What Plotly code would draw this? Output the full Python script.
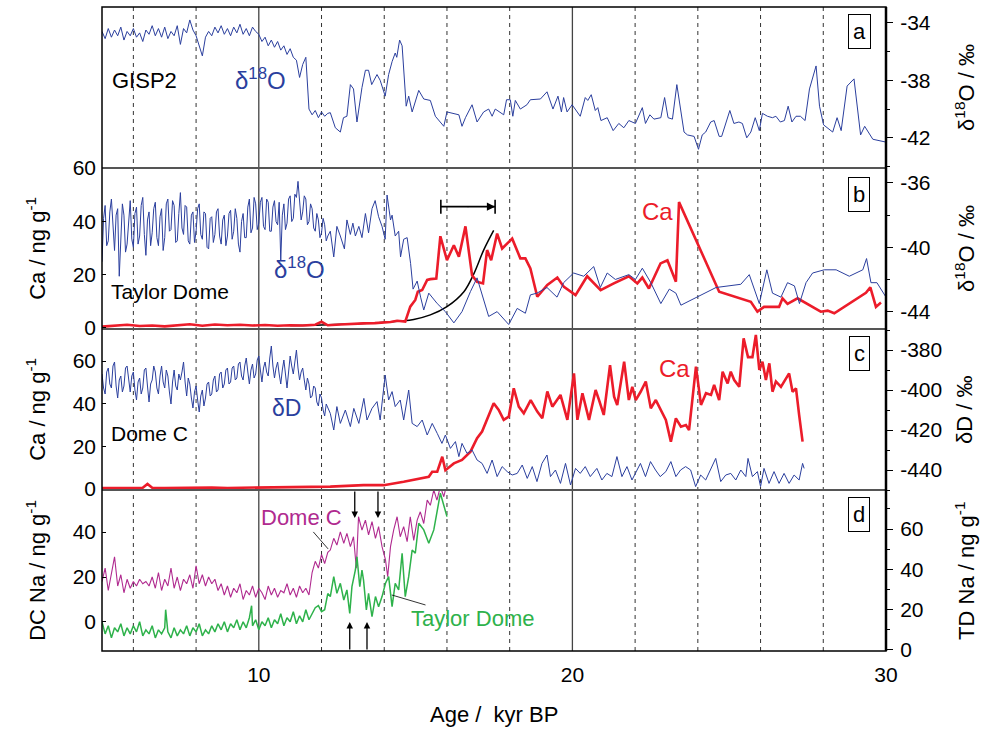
import plotly.graph_objects as go

# ---------------- data ----------------
# Panel a: GISP2 d18O (permil)
gisp_age = [5.0,5.1,5.2,5.3,5.4,5.5,5.6,5.7,5.8,5.9,6.0,6.1,6.2,6.3,6.4,6.5,6.6,6.7,6.8,6.9,
            7.0,7.1,7.2,7.3,7.4,7.5,7.6,7.7,7.8,7.9,8.0,8.1,8.2,8.3,8.4,8.5,8.6,8.7,8.8,8.9,
            9.0,9.1,9.2,9.3,9.4,9.5,9.6,9.7,9.8,9.9,10.0,10.1,10.2,10.3,10.4,10.5,10.6,10.7,10.8,10.9,
            11.0,11.1,11.2,11.3,11.4,11.5,11.6,11.7,11.8,11.9,12.0,12.1,12.2,
            12.28,12.44,12.6,12.7,12.81,12.92,13.02,13.13,13.29,13.4,13.5,13.6,13.77,13.87,14.03,14.14,
            14.25,14.35,14.4,14.49,14.57,14.7,14.78,14.89,15.1,15.26,15.47,15.63,15.9,16.0,16.38,16.48,
            16.59,16.8,16.96,17.17,17.33,17.44,17.54,17.81,17.9,18.02,18.1,18.18,18.34,18.55,18.66,18.98,
            19.19,19.38,19.54,19.65,19.72,19.83,19.99,20.25,20.41,20.49,20.6,20.73,20.81,20.91,21.11,21.3,
            21.48,21.64,21.8,22.01,22.23,22.33,22.47,22.6,22.82,22.94,23.05,23.19,23.33,23.56,23.67,23.88,
            24.02,24.14,24.25,24.41,24.52,24.68,24.76,25.02,25.15,25.31,25.42,25.56,25.69,25.83,25.96,26.06,
            26.22,26.38,26.49,26.63,26.76,26.88,27.0,27.13,27.27,27.42,27.56,27.77,27.88,28.01,28.3,28.44,
            28.57,28.76,28.98,29.19,29.32,29.58,30.0]
gisp_d18o = [-34.6,-35.1,-34.4,-35.0,-34.5,-34.9,-34.3,-35.2,-34.6,-34.9,-34.4,-35.0,-34.7,-35.3,-34.5,-34.8,-34.2,-34.9,-34.4,-35.0,
             -34.3,-35.1,-34.6,-34.9,-34.2,-35.5,-34.4,-34.7,-33.8,-34.5,-34.9,-35.6,-36.3,-35.0,-34.6,-34.9,-34.3,-34.7,-34.2,-34.8,
             -34.4,-34.9,-34.3,-34.7,-34.1,-34.8,-34.4,-34.9,-34.3,-34.6,-34.8,-35.3,-35.0,-35.6,-35.2,-35.7,-35.3,-35.9,-35.6,-36.2,
             -35.8,-36.4,-36.6,-37.8,-36.9,-36.4,-40.0,-40.4,-40.1,-40.6,-40.2,-40.5,-40.3,
             -40.25,-41.3,-41.6,-40.6,-40.5,-38.3,-38.6,-40.9,-38.5,-37.3,-37.3,-38.3,-37.6,-38.0,-39.1,-37.6,
             -36.7,-36.1,-36.4,-35.2,-35.6,-39.8,-39.1,-40.2,-38.7,-39.3,-39.4,-40.5,-41.2,-40.2,-40.4,-41.2,
             -40.6,-39.7,-40.9,-40.2,-40.0,-40.5,-40.0,-40.4,-39.35,-39.35,-40.5,-39.4,-40.0,-39.7,-39.35,-39.3,
             -38.8,-40.0,-39.1,-40.2,-39.2,-40.2,-39.7,-40.5,-39.2,-39.4,-39.0,-40.1,-39.9,-40.8,-40.6,-41.5,
             -41.0,-41.3,-40.8,-41.0,-39.9,-41.0,-40.4,-40.7,-40.6,-39.2,-40.6,-40.7,-38.3,-41.6,-41.8,-41.9,
             -42.8,-41.8,-41.6,-40.9,-40.8,-41.9,-41.9,-40.1,-41.0,-40.9,-41.0,-42.0,-41.6,-40.6,-41.5,-40.3,
             -40.5,-40.6,-40.5,-40.9,-40.8,-39.8,-40.9,-40.5,-40.5,-40.8,-38.6,-37.0,-39.8,-41.1,-41.6,-40.6,
             -41.5,-38.4,-37.9,-41.8,-41.2,-42.1,-42.3]

# Panel b: Taylor Dome d18O (permil) and Ca (ng/g)
td_o_age = [5.00,5.05,5.10,5.15,5.20,5.25,5.30,5.35,5.40,5.45,5.50,5.55,5.60,5.65,5.70,5.75,5.80,5.85,5.90,5.95,
            6.00,6.05,6.10,6.15,6.20,6.25,6.30,6.35,6.40,6.45,6.50,6.55,6.60,6.65,6.70,6.75,6.80,6.85,6.90,6.95,
            7.00,7.05,7.10,7.15,7.20,7.25,7.30,7.35,7.40,7.45,7.50,7.55,7.60,7.65,7.70,7.75,7.80,7.85,7.90,7.95,
            8.00,8.05,8.10,8.15,8.20,8.25,8.30,8.35,8.40,8.45,8.50,8.55,8.60,8.65,8.70,8.75,8.80,8.85,8.90,8.95,
            9.00,9.05,9.10,9.15,9.20,9.25,9.30,9.35,9.40,9.45,9.50,9.55,9.60,9.65,9.70,9.75,9.80,9.85,9.90,9.95,
            10.00,10.05,10.10,10.15,10.20,10.25,10.30,10.35,10.40,10.45,10.50,10.55,10.60,10.65,10.70,10.75,10.80,10.85,10.90,10.95,
            11.00,11.05,11.10,11.15,11.20,11.25,11.30,11.35,11.40,11.45,11.50,11.55,11.60,11.65,11.70,11.75,11.80,11.85,11.90,11.95,
            12.00,12.05,12.10,12.15,12.20,
            12.28,12.39,12.49,12.6,12.73,12.81,12.92,13.0,13.08,13.19,13.29,13.4,13.5,13.61,13.71,13.82,
            13.93,14.03,14.09,14.2,14.25,14.35,14.46,14.52,14.62,14.73,14.84,14.92,15.05,15.16,15.26,15.42,
            15.69,15.95,16.22,16.48,16.75,16.96,17.33,17.6,17.97,18.24,18.5,18.66,18.87,19.19,19.51,19.72,
            20.04,20.36,20.68,20.89,21.11,21.37,21.8,22.01,22.23,22.5,22.82,23.09,23.3,23.46,23.99,24.58,
            25.37,25.64,25.96,26.2,26.38,26.65,26.86,27.08,27.24,27.45,27.66,28.03,28.41,28.83,29.26,29.38,
            29.52,29.71,30.0]
td_d18o = [-40.9,-38.2,-37.4,-39.9,-39.6,-37.8,-37.0,-39.1,-40.2,-38.0,-37.6,-41.8,-39.4,-37.3,-38.0,-40.3,-39.8,-38.1,-37.1,-39.5,
           -40.0,-37.9,-37.5,-39.8,-39.3,-37.4,-36.9,-39.2,-40.5,-38.3,-37.8,-39.9,-39.1,-37.6,-37.2,-39.4,-39.9,-38.1,-37.6,-40.2,
           -39.4,-37.3,-37.0,-39.0,-38.9,-37.1,-37.4,-39.7,-39.6,-37.9,-36.6,-38.8,-39.2,-37.4,-37.5,-39.6,-39.8,-38.0,-37.8,-39.7,
           -39.0,-37.6,-37.3,-39.2,-39.5,-37.8,-37.9,-40.0,-40.1,-38.2,-38.1,-39.7,-39.2,-37.8,-37.6,-39.3,-39.8,-38.3,-38.0,-39.9,
           -39.3,-37.9,-37.7,-39.5,-39.0,-37.6,-38.2,-39.8,-40.3,-38.4,-37.9,-39.4,-39.4,-37.5,-37.0,-39.1,-38.8,-36.9,-37.3,-38.9,
           -38.5,-37.2,-36.9,-38.7,-38.9,-37.0,-37.2,-39.0,-39.0,-37.5,-37.1,-38.4,-38.6,-37.2,-40.8,-38.0,-37.3,-38.9,-38.5,-37.0,
           -36.8,-38.4,-38.2,-36.7,-36.9,-35.9,-37.2,-38.3,-37.8,-36.8,-37.0,-38.6,-38.4,-37.3,-37.6,-38.8,-39.0,-37.9,-38.3,-39.4,
           -39.1,-38.2,-38.6,-39.6,-39.3,
           -39.0,-40.6,-38.7,-39.3,-40.1,-38.3,-39.2,-38.5,-39.3,-38.7,-39.4,-37.9,-39.1,-37.6,-37.1,-38.1,
           -38.7,-39.5,-36.75,-38.3,-38.0,-39.3,-39.0,-40.6,-39.5,-39.4,-41.0,-42.6,-42.1,-43.1,-43.9,-42.85,
           -43.5,-44.0,-44.7,-44.0,-42.75,-41.9,-44.3,-44.0,-44.8,-43.8,-44.1,-42.96,-42.85,-42.5,-43.1,-42.2,
           -41.6,-41.8,-41.2,-42.5,-41.6,-42.0,-41.7,-42.0,-41.3,-42.2,-43.5,-42.6,-42.85,-43.6,-43.1,-42.5,
           -42.3,-41.7,-43.5,-41.4,-42.85,-43.1,-42.2,-42.4,-43.5,-42.2,-41.6,-41.4,-41.4,-41.8,-41.4,-40.7,
           -42.2,-42.2,-43.1]

td_ca_age = [5.0,5.4,5.8,6.2,6.6,7.0,7.4,7.8,8.2,8.6,9.0,9.4,9.8,10.2,10.6,11.0,11.4,11.8,12.0,12.2,
             12.6,13.0,13.34,13.7,13.98,14.2,14.41,14.67,14.83,14.99,15.07,15.21,15.37,15.47,15.66,15.79,
             16.0,16.22,16.38,16.59,16.8,16.96,17.15,17.28,17.41,17.6,17.76,17.92,18.08,18.34,18.5,18.66,
             18.88,19.2,19.52,19.73,20.1,20.47,20.9,21.32,21.8,22.07,22.23,22.44,22.81,23.03,23.3,23.4,
             24.68,25.69,25.9,26.11,26.59,26.7,26.86,27.18,27.44,27.92,28.14,28.35,29.36,29.5,29.68,29.84]
td_ca = [0.5,0.8,1.2,0.7,0.9,0.6,1.1,1.4,0.8,1.3,1.0,1.2,0.9,1.1,0.8,1.0,0.9,1.2,2.3,1.0,
         1.3,1.6,1.7,1.8,2.0,2.2,2.7,2.4,8.0,10.5,13.6,14.2,18.0,18.3,18.5,34.4,
         25.4,31.0,26.7,38.1,19.8,17.3,16.7,29.2,25.4,35.4,29.8,31.6,33.5,26.1,26.1,22.3,
         11.7,16.1,18.9,15.4,12.3,19.4,14.2,16.7,19.4,16.7,18.9,14.8,24.2,25.4,17.3,47.2,
         13.6,9.8,6.1,7.9,7.9,11.1,9.0,11.1,9.3,6.1,6.5,5.5,13.2,15.2,7.9,9.5]

# black fitted curve in panel b
td_fit_age = [11.0,12.0,13.0,14.0,14.5,14.94,15.47,16.0,16.54,16.86,17.17,17.49]
td_fit_ca = [0.9,1.1,1.5,2.1,2.6,3.2,4.9,8.0,13.6,20.4,29.2,36.6]

# horizontal bar in panel b
bar_center_age = 16.67
bar_half_width = 0.865
bar_level_ca = 45.5

# Panel c: Dome C dD (permil) and Ca (ng/g)
dc_d_age = [5.00,5.05,5.10,5.15,5.20,5.25,5.30,5.35,5.40,5.45,5.50,5.55,5.60,5.65,5.70,5.75,5.80,5.85,5.90,5.95,
            6.00,6.05,6.10,6.15,6.20,6.25,6.30,6.35,6.40,6.45,6.50,6.55,6.60,6.65,6.70,6.75,6.80,6.85,6.90,6.95,
            7.00,7.05,7.10,7.15,7.20,7.25,7.30,7.35,7.40,7.45,7.50,7.55,7.60,7.65,7.70,7.75,7.80,7.85,7.90,7.95,
            8.00,8.05,8.10,8.15,8.20,8.25,8.30,8.35,8.40,8.45,8.50,8.55,8.60,8.65,8.70,8.75,8.80,8.85,8.90,8.95,
            9.00,9.05,9.10,9.15,9.20,9.25,9.30,9.35,9.40,9.45,9.50,9.55,9.60,9.65,9.70,9.75,9.80,9.85,9.90,9.95,
            10.00,10.05,10.10,10.15,10.20,10.25,10.30,10.35,10.40,10.45,10.50,10.55,10.60,10.65,10.70,10.75,10.80,10.85,10.90,10.95,
            11.00,11.05,11.10,11.15,11.20,11.25,11.30,11.35,11.40,11.45,11.50,11.55,11.60,11.65,11.70,11.75,11.80,11.85,11.90,11.95,
            12.00,12.05,12.10,12.15,12.20,
            12.28,12.39,12.49,12.6,12.76,12.92,13.03,13.19,13.35,13.45,13.61,13.77,13.87,14.03,14.14,14.25,
            14.35,14.51,14.62,14.78,14.89,15.05,15.21,15.37,15.53,15.69,15.84,15.95,16.11,16.27,16.38,16.48,
            16.64,16.8,16.96,17.12,17.28,17.44,17.6,17.76,17.92,18.08,18.24,18.4,18.56,18.72,18.87,19.03,
            19.19,19.3,19.46,19.62,19.78,19.94,20.1,20.25,20.41,20.57,20.78,20.94,21.1,21.26,21.42,21.58,
            21.74,21.9,22.0,22.17,22.33,22.49,22.65,22.8,22.98,23.14,23.3,23.45,23.61,23.77,23.93,24.09,
            24.25,24.41,24.57,24.73,24.89,25.05,25.21,25.37,25.53,25.6,25.74,25.9,26.0,26.11,26.27,26.43,
            26.59,26.75,26.91,27.07,27.23,27.34,27.39]
dc_dD = [-392,-399,-402,-391,-389,-397,-399,-388,-386,-398,-404,-395,-393,-401,-398,-389,-388,-396,-401,-393,
         -391,-400,-405,-396,-394,-402,-399,-390,-389,-398,-406,-397,-395,-388,-391,-399,-402,-393,-388,-396,
         -399,-390,-393,-401,-407,-396,-390,-398,-400,-392,-395,-391,-386,-396,-403,-394,-397,-404,-409,-401,
         -398,-405,-411,-403,-400,-408,-404,-397,-396,-403,-402,-395,-393,-401,-400,-392,-391,-399,-397,-390,
         -389,-397,-396,-389,-388,-395,-394,-387,-386,-393,-395,-388,-384,-391,-397,-390,-387,-394,-392,-385,
         -383,-390,-396,-389,-386,-391,-393,-384,-378,-388,-394,-389,-386,-392,-397,-390,-385,-392,-399,-391,
         -383,-388,-392,-386,-380,-389,-395,-391,-389,-395,-400,-394,-397,-404,-403,-398,-399,-406,-408,-402,
         -404,-410,-413,-407,-409,
         -411.7,-420,-408.3,-416.7,-410,-418.3,-409.2,-416.7,-404.2,-415,-409.2,-405.8,-415,-392.5,-405,-400.8,
         -408.3,-405,-415,-400,-416.7,-418.3,-415,-422.5,-416.7,-421.7,-426.7,-422.5,-429.2,-425.8,-433.3,-426.7,
         -431.7,-430,-435,-436.7,-441.7,-435,-443.3,-438.3,-440.8,-442.5,-441.7,-437.5,-444.2,-438.3,-445.8,-436.7,
         -432.5,-443.3,-440,-446.7,-436.7,-447.5,-439.2,-441.7,-438.3,-443.3,-439.2,-445,-441.7,-443.3,-433.3,-443.3,
         -438.3,-445,-441.7,-436.7,-443.3,-435.8,-440,-443.3,-440.8,-435.8,-443.3,-440,-438.3,-440,-448.3,-442.5,
         -445,-439.2,-434.2,-445.8,-442.5,-441.7,-445,-440,-443.3,-434.2,-443.3,-440.8,-448.3,-439.2,-446.7,-440.8,
         -446.7,-441.7,-446.7,-442.5,-445,-436.7,-439.2]

dc_ca_age = [5.0,5.5,6.0,6.3,6.45,6.6,7.0,7.5,8.0,8.5,9.0,9.5,10.0,10.5,11.0,11.5,12.0,12.28,13.34,13.98,
             14.62,15.05,15.42,15.53,15.69,15.85,15.95,16.22,16.48,16.75,16.96,17.12,17.28,17.49,17.65,17.81,
             17.97,18.13,18.29,18.45,18.67,18.88,19.04,19.2,19.36,19.62,19.84,20.05,20.16,20.32,20.53,20.74,
             20.85,21.0,21.2,21.33,21.43,21.65,21.8,21.91,22.02,22.18,22.34,22.5,22.66,22.82,22.98,23.14,
             23.3,23.46,23.62,23.72,23.94,24.1,24.26,24.42,24.52,24.68,24.79,24.95,25.05,25.16,25.32,25.46,
             25.6,25.74,25.85,25.96,26.06,26.17,26.28,26.38,26.49,26.65,26.91,27.02,27.13,27.23,27.34]
dc_ca = [0.4,0.6,0.5,0.6,2.4,0.6,0.4,0.6,0.5,0.7,0.5,0.6,0.5,0.8,0.6,0.7,0.9,1.1,1.8,1.8,
         3.4,4.5,5.7,8.1,8.1,15.1,8.8,12.0,13.6,17.5,23.8,26.9,32.4,40.2,37.1,32.4,
         33.9,47.2,38.6,35.5,41.7,36.3,33.2,45.7,38.6,44.1,32.4,54.2,32.4,44.9,32.4,46.4,
         41.7,34.7,58.1,43.3,39.4,59.7,41.7,47.9,41.7,45.7,50.4,37.8,41.7,37.0,32.4,22.2,
         33.1,29.2,30.0,27.6,57.4,39.4,44.9,44.1,48.8,41.7,55.0,49.5,55.0,51.1,47.9,70.6,
         61.8,61.8,72.2,55.8,59.7,51.1,58.9,45.6,50.4,47.9,54.2,45.6,47.2,34.7,22.2]

# Panel d: Dome C Na (left axis) and Taylor Dome Na (right axis), ng/g
dc_na_age = [5.0,5.1,5.2,5.3,5.4,5.5,5.6,5.7,5.8,5.9,6.0,6.1,6.2,6.3,6.4,6.5,6.6,6.7,6.8,6.9,
             7.0,7.1,7.2,7.3,7.4,7.5,7.6,7.7,7.8,7.9,8.0,8.1,8.2,8.3,8.4,8.5,8.6,8.7,8.8,8.9,
             9.0,9.1,9.2,9.3,9.4,9.5,9.6,9.7,9.8,9.9,10.0,10.1,10.2,10.3,10.4,10.5,10.6,10.7,10.8,10.9,
             11.0,11.1,11.2,11.3,11.4,11.5,11.6,11.7,11.8,11.9,12.0,12.1,12.2,
             12.28,12.39,12.49,12.6,12.71,12.81,12.92,13.02,13.11,13.18,13.29,13.4,13.5,13.61,13.72,13.82,
             13.93,14.04,14.11,14.2,14.3,14.41,14.51,14.62,14.73,14.83,14.94,15.05,15.15,15.26,15.37,15.47,
             15.58,15.68,15.79,15.9,15.95]
dc_na = [18,24,14,22,29,16,21,13,19,15,18,16,19,17,18,16,20,15,22,14,
         19,16,24,15,20,14,19,17,21,15,25,17,21,16,20,17,19,14,17,12,
         16,11,15,13,17,10,14,12,16,11,15,13,10,16,12,15,11,14,13,17,
         12,15,11,16,13,15,12,22,27,24,30,26,31,
         32,37.2,34.2,40.1,35,39.4,33.5,37.9,23.9,46.8,40.9,45.3,38.7,44.6,37.2,42.4,
         33.5,27.6,20.1,33.5,40.9,46.8,37.9,42.4,35.7,46.8,36.3,45.3,49.0,43.8,54.2,51.9,
         58.7,54.2,60.2,55.7,58.7]

td_na_age = [5.0,5.1,5.2,5.3,5.4,5.5,5.6,5.7,5.8,5.9,6.0,6.1,6.2,6.3,6.4,6.5,6.6,6.7,6.8,6.9,
             7.0,7.03,7.1,7.2,7.3,7.4,7.5,7.6,7.7,7.8,7.9,8.0,8.1,8.2,8.3,8.4,8.5,8.6,8.7,8.8,8.9,
             9.0,9.1,9.2,9.3,9.4,9.5,9.6,9.7,9.77,9.8,9.9,10.0,10.1,10.2,10.3,10.4,10.5,10.6,10.7,10.8,10.9,
             11.0,11.1,11.2,11.3,11.4,11.5,11.6,11.7,11.8,11.9,12.0,12.1,12.2,
             12.28,12.39,12.49,12.6,12.71,12.81,12.9,12.97,13.08,13.13,13.22,13.29,13.34,13.43,13.5,13.61,
             13.72,13.82,13.93,14.04,14.14,14.25,14.35,14.46,14.57,14.67,14.78,14.89,14.99,15.1,15.26,15.42,
             15.58,15.79,16.0]
td_na = [14,8,12,6,11,9,13,7,11,8,12,9,14,7,10,8,12,6,10,8,
         11,20,9,6,11,7,10,8,12,7,11,9,13,7,10,8,12,9,13,10,14,
         9,13,11,15,10,14,11,16,22,12,15,10,14,12,16,11,15,13,18,12,16,
         14,19,13,17,14,20,15,18,21,22,19,20,28,
         26.5,36.4,28.1,33.1,24.8,29.8,18.2,31.4,39.7,46.3,31.4,39.7,34.7,19.9,28.1,16.5,
         26.5,21.5,26.5,33.1,36.4,21.5,33.1,29.8,48.0,26.5,36.4,49.6,48.0,62.9,59.6,53.0,
         59.6,77.8,66.2]

# arrows in panel d (ages)
down_arrow_ages = [13.06, 13.8]
up_arrow_ages = [12.9, 13.45]

# axis ticks
x_ticks = [10, 20, 30]
dashed_ages = [6, 8, 12, 14, 16, 18, 22, 24, 26, 28]
solid_ages = [10, 20]

# ---------------- styling ----------------
FONT = "Liberation Sans, Arial, Helvetica, sans-serif"
BLUE = "#2b3f9e"
RED = "#ec1c2a"
MAGENTA = "#b02a8f"
GREEN = "#2eb24b"

fig = go.Figure()

fig.add_trace(go.Scatter(x=gisp_age, y=gisp_d18o, mode="lines", line=dict(color=BLUE, width=1),
                         xaxis="x", yaxis="y"))
fig.add_trace(go.Scatter(x=td_o_age, y=td_d18o, mode="lines", line=dict(color=BLUE, width=1),
                         xaxis="x", yaxis="y3"))
fig.add_trace(go.Scatter(x=td_fit_age, y=td_fit_ca, mode="lines", line=dict(color="black", width=1.5, shape="spline"),
                         xaxis="x", yaxis="y2"))
fig.add_trace(go.Scatter(x=td_ca_age, y=td_ca, mode="lines", line=dict(color=RED, width=2.6),
                         xaxis="x", yaxis="y2"))
fig.add_trace(go.Scatter(x=[bar_center_age], y=[bar_level_ca], mode="markers",
                         marker=dict(size=1, color="black"),
                         error_x=dict(type="data", array=[bar_half_width], color="black", thickness=1.6, width=7),
                         xaxis="x", yaxis="y2"))
fig.add_trace(go.Scatter(x=dc_d_age, y=dc_dD, mode="lines", line=dict(color=BLUE, width=1),
                         xaxis="x", yaxis="y5"))
fig.add_trace(go.Scatter(x=dc_ca_age, y=dc_ca, mode="lines", line=dict(color=RED, width=2.6),
                         xaxis="x", yaxis="y4"))
fig.add_trace(go.Scatter(x=dc_na_age, y=dc_na, mode="lines", line=dict(color=MAGENTA, width=1.1),
                         xaxis="x", yaxis="y6"))
fig.add_trace(go.Scatter(x=td_na_age, y=td_na, mode="lines", line=dict(color=GREEN, width=1.5),
                         xaxis="x", yaxis="y7"))

tickfont = dict(family=FONT, size=21, color="black")

def left_axis(domain, rng, vals):
    return dict(domain=domain, range=rng, anchor="x", side="left", tickvals=vals,
                ticktext=[str(v) for v in vals], ticks="inside", ticklen=4, tickcolor="black",
                showgrid=False, zeroline=False, showline=False, tickfont=tickfont,
                ticklabelstandoff=5, automargin=False)

def right_axis(overlay, domain, rng, vals, minor):
    d = dict(range=rng, anchor="x", side="right", tickvals=vals,
             ticktext=[str(v) for v in vals], ticks="outside", ticklen=6, tickcolor="black",
             showgrid=False, zeroline=False, showline=False, tickfont=tickfont,
             minor=dict(tickvals=minor, ticks="outside", ticklen=3, tickcolor="black"),
             ticklabelstandoff=3, automargin=False)
    if overlay:
        d["overlaying"] = overlay
    else:
        d["domain"] = domain
    return d

fig.update_layout(
    width=986, height=729, autosize=False,
    margin=dict(l=102, r=100, t=7, b=78, autoexpand=False),
    paper_bgcolor="white", plot_bgcolor="white",
    showlegend=False,
    font=dict(family=FONT, color="black"),
    xaxis=dict(domain=[0, 1], range=[5, 30], anchor="y6", tickvals=x_ticks,
               ticktext=[str(v) for v in x_ticks], ticks="outside", ticklen=2,
               tickcolor="rgba(0,0,0,0)", showgrid=False, zeroline=False, showline=False,
               tickfont=tickfont, ticklabelstandoff=3, automargin=False),
    yaxis=right_axis(None, [0.75, 1.0], [-44.1, -32.9], [-34, -38, -42], [-36, -40, -44]),
    yaxis2=left_axis([0.5, 0.75], [-0.4, 60.0], [0, 20, 40, 60]),
    yaxis3=right_axis("y2", None, [-45.08, -35.07], [-36, -40, -44], [-38, -42]),
    yaxis4=left_axis([0.25, 0.5], [-0.47, 75.0], [0, 20, 40, 60]),
    yaxis5=right_axis("y4", None, [-450, -369.5], [-380, -400, -420, -440], [-370, -390, -410, -430, -450]),
    yaxis6=left_axis([0.0, 0.25], [-12.9, 58.7], [0, 20, 40]),
    yaxis7=right_axis("y6", None, [-0.5, 79.4], [0, 20, 40, 60], [10, 30, 50, 70]),
)

shapes = []
for a in dashed_ages:
    shapes.append(dict(type="line", xref="x", yref="paper", x0=a, x1=a, y0=0, y1=1,
                       line=dict(color="#333333", width=1, dash="4px,4px"), layer="below"))
for a in solid_ages:
    shapes.append(dict(type="line", xref="x", yref="paper", x0=a, x1=a, y0=0, y1=1,
                       line=dict(color="#444444", width=1.3), layer="below"))
for yy in [0.25, 0.5, 0.75]:
    shapes.append(dict(type="line", xref="paper", yref="paper", x0=0, x1=1, y0=yy, y1=yy,
                       line=dict(color="#555555", width=2), layer="above"))
shapes.append(dict(type="rect", xref="paper", yref="paper", x0=0, x1=1, y0=0, y1=1,
                   line=dict(color="black", width=1.5), layer="above"))
shapes.append(dict(type="line", xref="paper", yref="paper", x0=1, x1=1, y0=0, y1=1,
                   line=dict(color="black", width=2.5), layer="above"))
fig.update_layout(shapes=shapes)

ann = []
def txt(text, x, y, yref, color="black", size=21, xref="x", **kw):
    d = dict(text=text, x=x, y=y, xref=xref, yref=yref, showarrow=False,
             font=dict(family=FONT, size=size, color=color), xanchor="center", yanchor="middle")
    d.update(kw)
    ann.append(d)

# panel texts
txt("GISP2", 6.34, -37.98, "y", size=22)
txt("δ<sup>18</sup>O", 10.04, -37.9, "y", color=BLUE, size=24)
txt("δ<sup>18</sup>O", 11.31, 22.5, "y2", color=BLUE, size=24)
txt("Taylor Dome", 7.17, 13.5, "y2", size=21)
txt("Ca", 22.70, 43.5, "y2", color=RED, size=24)
txt("δD", 10.87, 38.0, "y4", color=BLUE, size=23)
txt("Dome C", 6.53, 25.8, "y4", size=21)
txt("Ca", 23.24, 56.7, "y4", color=RED, size=24)

# labelled lines in panel d
ann.append(dict(text="Dome C", x=12.21, y=32.5, xref="x", yref="y6", showarrow=True,
                ax=-27, ay=-31, arrowhead=0, arrowwidth=0.8, arrowcolor="black",
                font=dict(family=FONT, size=22, color=MAGENTA)))
ann.append(dict(text="Taylor Dome", x=14.24, y=27.3, xref="x", yref="y7", showarrow=True,
                ax=81, ay=24, arrowhead=0, arrowwidth=0.8, arrowcolor="black",
                font=dict(family=FONT, size=22, color=GREEN)))

# arrow head of the bar in panel b
ann.append(dict(text="", x=bar_center_age + bar_half_width, y=bar_level_ca, xref="x", yref="y2",
                ax=bar_center_age + bar_half_width - 0.3, ay=bar_level_ca, axref="x", ayref="y2",
                showarrow=True, arrowhead=2, arrowsize=1.1, arrowwidth=1.5, arrowcolor="black"))

# arrows in panel d
for a in down_arrow_ages:
    ann.append(dict(text="", x=a, y=46.25, xref="x", yref="y6", ax=0, ay=-28, showarrow=True,
                    arrowhead=2, arrowsize=1, arrowwidth=1.3, arrowcolor="black"))
for a in up_arrow_ages:
    ann.append(dict(text="", x=a, y=0.0, xref="x", yref="y6", ax=0, ay=29, showarrow=True,
                    arrowhead=2, arrowsize=1, arrowwidth=1.3, arrowcolor="black"))

# panel letters
for letter, yy in [("a", 0.962), ("b", 0.7096), ("c", 0.4627), ("d", 0.2112)]:
    ann.append(dict(text=letter, x=0.9656, y=yy, xref="paper", yref="paper", showarrow=False,
                    font=dict(family=FONT, size=22, color="black"), bordercolor="black",
                    borderwidth=1, borderpad=4, bgcolor="white", xanchor="center", yanchor="middle"))

# axis titles
def ytitle(text, xp, yp):
    ann.append(dict(text=text, x=xp, y=yp, xref="paper", yref="paper", showarrow=False,
                    textangle=-90, font=dict(family=FONT, size=22, color="black"),
                    xanchor="center", yanchor="middle"))

ytitle("Ca / ng g<sup>-1</sup>", -0.085, 0.625)
ytitle("Ca / ng g<sup>-1</sup>", -0.085, 0.375)
ytitle("DC Na / ng g<sup>-1</sup>", -0.085, 0.125)
ytitle("δ<sup>18</sup>O / ‰", 1.1, 0.875)
ytitle("δ<sup>18</sup>O / ‰", 1.1, 0.625)
ytitle("δD / ‰", 1.1, 0.375)
ytitle("TD Na / ng g<sup>-1</sup>", 1.1, 0.125)

ann.append(dict(text="Age /  kyr BP", x=0.5, y=-0.099, xref="paper", yref="paper", showarrow=False,
                font=dict(family=FONT, size=22, color="black"), xanchor="center", yanchor="middle"))

fig.update_layout(annotations=ann)

fig.write_html("out.html", config={"displayModeBar": False},
               post_script="document.body.style.margin='0px';")
